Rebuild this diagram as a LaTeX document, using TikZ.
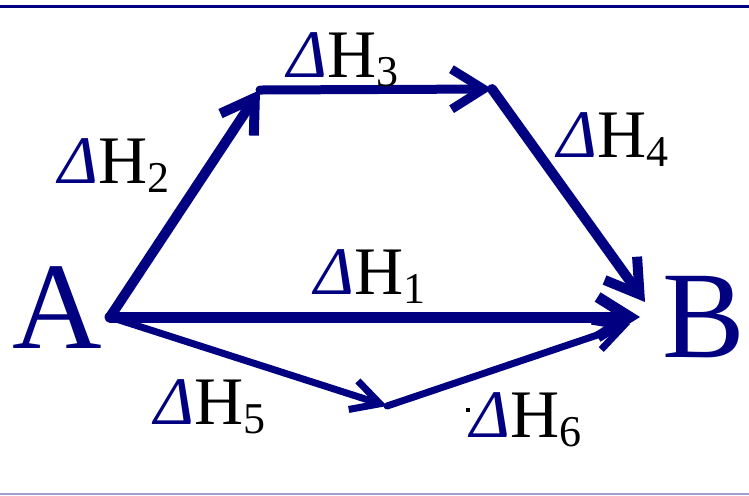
\documentclass[tikz,border=0pt]{standalone}
\usepackage{fontspec}
\setmainfont{Liberation Serif}
\usetikzlibrary{arrows.meta}
\definecolor{navy}{RGB}{0,0,128}
\definecolor{lavender}{RGB}{160,160,208}
% enthalpy label: blue Delta, black H, lowered index
\newcommand{\dH}[1]{{\color{navy}\textit{Δ}}H\raisebox{-4.5pt}{\fontsize{22}{22}\selectfont #1}}
\tikzset{
  leg/.style={draw=navy, line cap=round, line join=round,
    -{Straight Barb[length=16pt,width=20pt]}},
  thinleg/.style={leg, -{Straight Barb[length=14pt,width=15pt]}},
  lbl/.style={anchor=base west, inner sep=0pt, font=\fontsize{34}{34}\selectfont},
  state/.style={anchor=base west, inner sep=0pt, text=navy, font=\fontsize{62}{62}\selectfont}
}
\begin{document}
\begin{tikzpicture}[x=0.5pt, y=-0.5pt]
    \useasboundingbox (0,0) rectangle (749,495);

    % Frame lines at top and bottom
    \draw[navy, line width=1.5pt] (0,6) -- (749,6);
    \draw[lavender, line width=0.8pt] (0,494) -- (749,494);

    % Corners of the cycle
    \coordinate (a) at (110,317);
    \coordinate (c) at (260,90);
    \coordinate (d) at (492,89);
    \coordinate (e) at (387,406);
    \coordinate (b1) at (640,317);
    \coordinate (b2) at (645,302);
    \coordinate (b3) at (630,324);

    % Direct path and the two detours
    \draw[leg, line width=5.5pt] (a) -- (b1);
    \draw[leg, line width=5pt] (a) -- (c);
    \draw[leg, line width=4.5pt] (c) -- (d);
    \draw[leg, line width=5pt] (d) -- (b2);
    \draw[thinleg, line width=3.5pt] (a) -- (e);
    \draw[thinleg, line width=3.5pt] (e) -- (b3);

    % States
    \node[state] (A) at (12,348) {A};
    \node[state] (B) at (662,357) {B};

    % Enthalpy changes
    \node[lbl] (h1) at (314,294) {\dH{1}};
    \node[lbl] (h2) at (58,183) {\dH{2}};
    \node[lbl] (h3) at (287,77) {\dH{3}};
    \node[lbl] (h4) at (557,157) {\dH{4}};
    \node[lbl] (h5) at (154,424) {\dH{5}};
    \node[lbl] (h6) at (470,437) {\dH{6}};
    \fill (466,408) rectangle (470,412);
\end{tikzpicture}
\end{document}
